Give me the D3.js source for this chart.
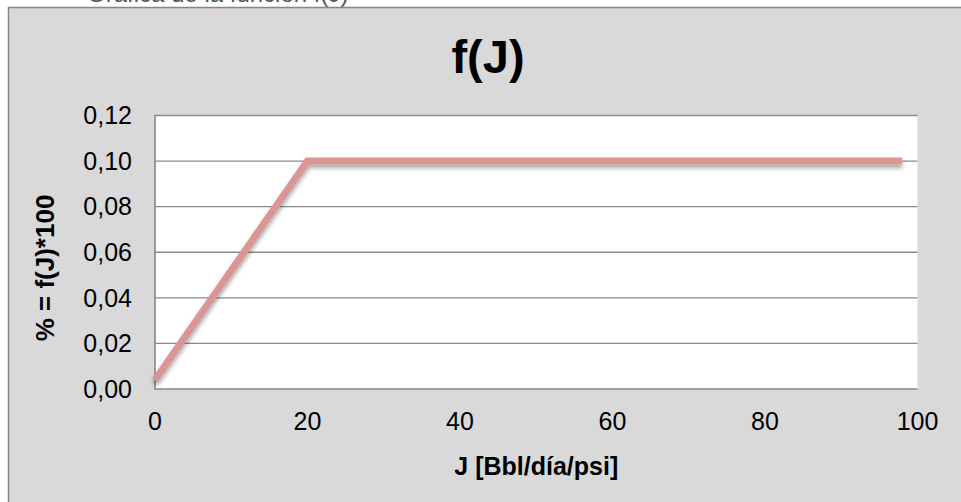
<!DOCTYPE html>
<html><head><meta charset="utf-8">
<script src="https://cdn.jsdelivr.net/npm/d3@7"></script>
<style>html,body{margin:0;padding:0;background:#fff;}svg{display:block;}</style>
</head><body>
<script>
const jValues = [0, 20, 98];
const fValues = [0.004, 0.1, 0.1];
const xTicks = [0, 20, 40, 60, 80, 100];
const yTicks = [0, 0.02, 0.04, 0.06, 0.08, 0.10, 0.12];
const chartTitle = "f(J)";
const pageHeading = "Gráfica de la función f(J)";
const xLabel = "J [Bbl/día/psi]";
const yLabel = "% = f(J)*100";

const W = 961, H = 502;
const svg = d3.select("body").append("svg").attr("width", W).attr("height", H);
const defs = svg.append("defs");
const f = defs.append("filter").attr("id","sh").attr("x","-10%").attr("y","-10%").attr("width","120%").attr("height","130%");
f.append("feDropShadow").attr("dx",0).attr("dy",3.5).attr("stdDeviation",2).attr("flood-color","#000").attr("flood-opacity",0.35);

// page heading (cut off at the top, as in the reference)
svg.append("text").attr("x", 87).attr("y", 1.5).attr("font-family","Arial, Liberation Sans, sans-serif")
  .attr("font-size", 24).attr("fill","#555").text(pageHeading);

// chart frame
svg.append("rect").attr("x", 8.5).attr("y", 7.5).attr("width", W + 20).attr("height", H + 20)
  .attr("fill", "#d9d9d9").attr("stroke", "#868686").attr("stroke-width", 1.5);

const x = d3.scaleLinear().domain([0, 100]).range([155, 917.5]);
const y = d3.scaleLinear().domain([0, 0.12]).range([389, 115.5]);

// plot area
svg.append("rect").attr("x", x(0)).attr("y", y(0.12)).attr("width", x(100) - x(0)).attr("height", y(0) - y(0.12)).attr("fill", "#fff");

// gridlines
svg.append("g").selectAll("line").data(yTicks.filter(d => d > 0)).join("line")
  .attr("x1", x(0)).attr("x2", x(100)).attr("y1", d => y(d)).attr("y2", d => y(d))
  .attr("stroke", "#8a8a8a").attr("stroke-width", 1.3);

// axes lines
svg.append("line").attr("x1", x(0)).attr("x2", x(100)).attr("y1", y(0)).attr("y2", y(0)).attr("stroke","#868686").attr("stroke-width",1.6);
svg.append("line").attr("x1", x(0)).attr("x2", x(0)).attr("y1", y(0.12) - 0.8).attr("y2", y(0) + 0.8).attr("stroke","#868686").attr("stroke-width",1.6);

// y tick labels
const fmt = d => d3.format(".2f")(d).replace(".", ",");
svg.append("g").selectAll("text").data(yTicks).join("text")
  .attr("x", 132).attr("y", d => y(d)).attr("dy", "0.35em").attr("text-anchor","end")
  .attr("font-family","Arial, Liberation Sans, sans-serif").attr("font-size", 25).attr("fill","#000")
  .text(fmt);

// x tick labels
svg.append("g").selectAll("text").data(xTicks).join("text")
  .attr("x", d => x(d)).attr("y", 430).attr("text-anchor","middle")
  .attr("font-family","Arial, Liberation Sans, sans-serif").attr("font-size", 25).attr("fill","#000")
  .text(d => d);

// line
const line = d3.line().x((d, i) => x(jValues[i])).y(d => y(d));
svg.append("path").datum(fValues).attr("d", line).attr("fill","none")
  .attr("stroke","#d99694").attr("stroke-width",7).attr("stroke-linejoin","miter")
  .attr("filter","url(#sh)");

// title
svg.append("text").attr("x", 488).attr("y", 73).attr("text-anchor","middle")
  .attr("font-family","Arial, Liberation Sans, sans-serif").attr("font-weight","bold").attr("font-size", 47).attr("fill","#000")
  .text(chartTitle);

// axis titles
svg.append("text").attr("x", (x(0) + x(100)) / 2).attr("y", 475).attr("text-anchor","middle")
  .attr("font-family","Arial, Liberation Sans, sans-serif").attr("font-weight","bold").attr("font-size", 25).attr("fill","#000")
  .text(xLabel);
svg.append("text").attr("transform","translate(54,268) rotate(-90)").attr("text-anchor","middle")
  .attr("font-family","Arial, Liberation Sans, sans-serif").attr("font-weight","bold").attr("font-size", 26).attr("fill","#000")
  .text(yLabel);
</script>
</body></html>
